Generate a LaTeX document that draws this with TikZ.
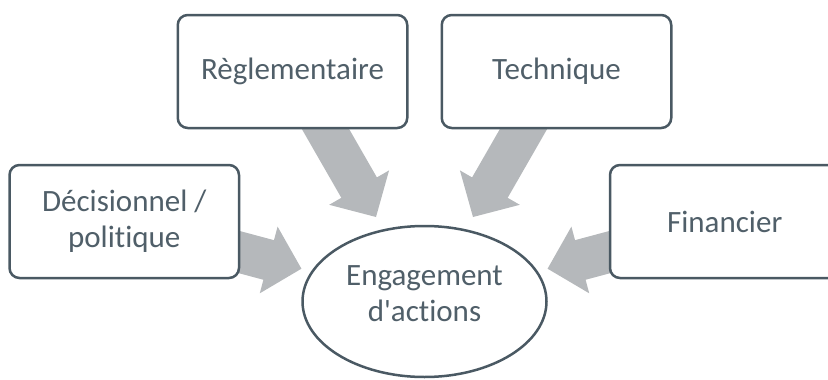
\documentclass[tikz,border=0pt]{standalone}
\usepackage{fontspec}
\setmainfont{Carlito}[Ligatures={NoCommon}]
\usetikzlibrary{shapes.geometric,arrows.meta}
\definecolor{boxline}{HTML}{4A5963}
\definecolor{boxtext}{HTML}{505F69}
\definecolor{arrowgrey}{HTML}{B5B8BB}
\pgfdeclarelayer{bg}
\pgfsetlayers{bg,main}
\tikzset{
  box/.style={draw=boxline, line width=2.5pt, fill=white, rounded corners=10pt,
    minimum width=229.5pt, minimum height=113pt, inner sep=0pt,
    text=boxtext, align=center, font=\fontsize{31}{36}\selectfont},
  goal/.style={ellipse, draw=boxline, line width=2.5pt, fill=white,
    minimum width=244pt, minimum height=151pt, inner sep=0pt, text depth=16pt,
    text=boxtext, align=center, font=\fontsize{31}{36}\selectfont},
  fat/.style={draw=arrowgrey, line width=41pt,
    -{Triangle[width=67pt,length=34pt]}, shorten <=-25pt}
}
\begin{document}
\begin{tikzpicture}[x=1pt,y=-1pt]
\useasboundingbox (0,0) rectangle (828,380);
\clip (0,0) rectangle (828,380);
\node[box] (dec) at (124.25,221.5) {Décisionnel /\\politique};
\node[box] (reg) at (292.5,71.5) {Règlementaire};
\node[box] (tec) at (556.5,71.5) {Technique};
\node[box] (fin) at (724.75,221.5) {Financier};
\node[goal] (eng) at (424.5,301.5) {Engagement\\d\textquotesingle actions};
\begin{pgfonlayer}{bg}
\draw[fat, shorten >=10pt] (dec) -- (eng);
\draw[fat, shorten >=14pt] (reg) -- (eng);
\draw[fat, shorten >=14pt] (tec) -- (eng);
\draw[fat, shorten >=10pt] (fin) -- (eng);
\end{pgfonlayer}
\end{tikzpicture}
\end{document}
